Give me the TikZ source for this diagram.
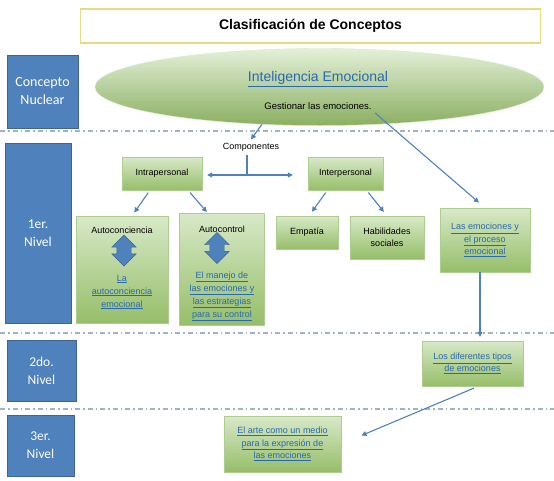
\documentclass[tikz,border=0pt]{standalone}
\usepackage{fontspec}
\setmainfont{Liberation Sans}
\newfontfamily\calibri{Carlito}
\usetikzlibrary{shapes.geometric,shapes.arrows,arrows.meta}
\definecolor{azul}{RGB}{79,129,189}
\definecolor{azulborde}{RGB}{60,100,150}
\definecolor{verdeclaro}{RGB}{216,233,200}
\definecolor{verdeoscuro}{RGB}{150,190,105}
\definecolor{verdeborde}{RGB}{175,205,145}
\definecolor{enlace}{RGB}{40,105,175}
\definecolor{linea}{RGB}{160,178,200}
\definecolor{amarillo}{RGB}{230,218,130}
\newcommand{\enl}[1]{\underline{#1}}

\tikzset{
  nivel/.style={draw=azulborde, fill=azul, text=white, font=\calibri\fontsize{13.5}{18}\selectfont, align=center, inner sep=0pt},
  caja/.style={draw=verdeborde, top color=verdeclaro, bottom color=verdeoscuro, font=\fontsize{9}{12.5}\selectfont, align=center, inner sep=0pt},
  rotulo/.style={font=\fontsize{9}{12.5}\selectfont},
  vinculo/.style={text=enlace, font=\fontsize{9}{13}\selectfont, align=center},
  flecha/.style={draw=azul, line width=1.1pt, -{Triangle[length=5pt,width=5pt]}},
  divisor/.style={draw=linea, line width=1.2pt, dash pattern=on 5pt off 3pt on 1.5pt off 3pt},
  bloque/.style={double arrow, shape border rotate=90, fill=azul, draw=azulborde, inner sep=7pt, minimum height=31pt, double arrow head extend=5pt}
}

\begin{document}
\begin{tikzpicture}[x=1pt, y=-1pt]
\useasboundingbox (0,0) rectangle (554,480);

% titulo
\node [draw=amarillo, line width=1.2pt, minimum width=460pt, minimum height=34pt, font=\bfseries\fontsize{14}{16}\selectfont] (titulo) at (310.5,26) {Clasificación de Conceptos};

% niveles
\node [nivel, font=\calibri\fontsize{14}{18}\selectfont, minimum width=71pt, minimum height=73pt] (nuclear) at (42.5,91.5) {Concepto\\Nuclear};
\node [nivel, minimum width=66pt, minimum height=180pt] (nivel1) at (38,233) {1er.\\Nivel};
\node [nivel, minimum width=69pt, minimum height=61pt] (nivel2) at (41.5,370.5) {2do.\\Nivel};
\node [nivel, minimum width=67pt, minimum height=61pt] (nivel3) at (40.5,445.5) {3er.\\Nivel};

\draw [divisor] (0,131) -- (554,131);
\draw [divisor] (0,333) -- (554,333);
\draw [divisor] (0,409) -- (554,409);

% concepto nuclear
\node [ellipse, draw=verdeclaro, top color=verdeclaro!70!white, bottom color=verdeoscuro!92!black, minimum width=449pt, minimum height=77pt, inner sep=0pt] (nucleo) at (319.5,87) {};
\node [text=enlace, font=\fontsize{14}{16}\selectfont] (inteligencia) at (318,79) {\enl{Inteligencia Emocional}};
\node [font=\fontsize{9.5}{11}\selectfont] (gestion) at (318,106) {Gestionar las emociones.};

% primer nivel
\node [rotulo] (comp) at (251,147) {Componentes};
\node [caja, minimum width=80pt, minimum height=33pt] (intra) at (162,173.5) {Intrapersonal};
\node [caja, minimum width=75pt, minimum height=33pt] (inter) at (345.5,173.5) {Interpersonal};
\node [caja, minimum width=92pt, minimum height=107pt] (autoconc) at (122,269.5) {};
\node [caja, minimum width=85pt, minimum height=112pt] (autocont) at (221.5,269) {};
\node [caja, minimum width=62pt, minimum height=33pt] (empatia) at (307,232.5) {Empatía};
\node [caja, minimum width=74pt, minimum height=43pt] (habil) at (387,237.5) {Habilidades\\sociales};
\node [caja, text=enlace, minimum width=90pt, minimum height=64pt] (emoproc) at (485,240) {\enl{Las emociones y}\\\enl{el proceso}\\\enl{emocional}};

\node [rotulo] (autoconcT) at (122,230) {Autoconciencia};
\node [bloque] (flechaA) at (124,250.5) {};
\node [vinculo] (autoconcV) at (122,292) {\enl{La}\\\enl{autoconciencia}\\\enl{emocional}};
\node [rotulo] (autocontT) at (222,229) {Autocontrol};
\node [bloque] (flechaB) at (217,248) {};
\node [vinculo] (autocontV) at (222,296.5) {\enl{El manejo de}\\\enl{las emociones y}\\\enl{las estrategias}\\\enl{para su control}};

% segundo y tercer nivel
\node [caja, text=enlace, minimum width=101pt, minimum height=45pt] (tipos) at (472.5,363.5) {\enl{Los diferentes tipos}\\\enl{de emociones}};
\node [caja, text=enlace, minimum width=117pt, minimum height=56pt] (arte) at (282.5,444) {\enl{El arte como un medio}\\\enl{para la expresión de}\\\enl{las emociones}};

% conexiones
\draw [flecha] (nucleo.213) -- (comp.north);
\draw [flecha, shorten >=8pt] (gestion.south east) -- (emoproc.north);
\coordinate (rama) at (247,175);
\draw [draw=azul, line width=1.1pt] (comp.south -| rama) -- (rama);
\draw [flecha, shorten >=5pt] (rama) -- (rama -| intra.east);
\draw [flecha, shorten >=15pt] (rama) -- (rama -| inter.west);
\draw [flecha, shorten <=3pt, shorten >=4pt] ([xshift=-12pt]intra.south) -- ([xshift=10pt]autoconc.north);
\draw [flecha, shorten <=3pt, shorten >=1pt] ([xshift=26pt]intra.south) -- ([xshift=-14pt]autocont.north);
\draw [flecha, shorten <=3pt, shorten >=5pt] ([xshift=-18pt]inter.south) -- ([xshift=2pt]empatia.north);
\draw [flecha, shorten <=3pt, shorten >=5pt] ([xshift=21pt]inter.south) -- (habil.north);
\coordinate (bajada) at ([xshift=-5pt]emoproc.south);
\draw [flecha, shorten >=4pt] (bajada) -- (bajada |- tipos.north);
\draw [flecha, shorten <=5pt, shorten >=22pt] ([xshift=6pt]tipos.south) -- (arte.east);
\end{tikzpicture}
\end{document}
